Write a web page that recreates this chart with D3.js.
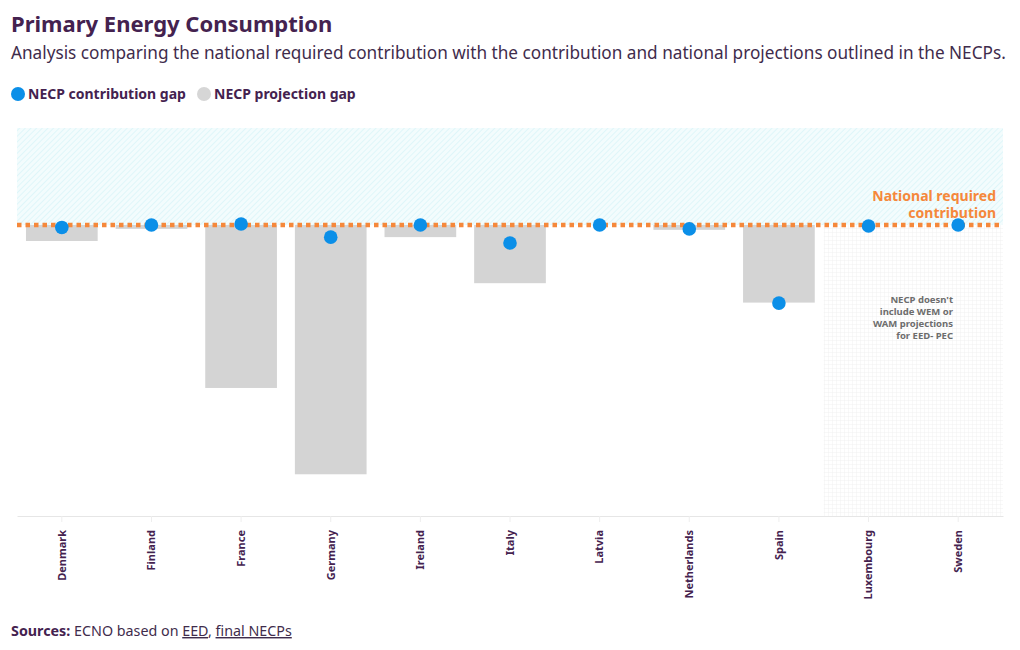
<!DOCTYPE html>
<html><head><meta charset="utf-8">
<script src="https://cdn.jsdelivr.net/npm/d3@7"></script>
<style>
body{margin:0;background:#fff;font-family:"Noto Sans",sans-serif;}
</style></head>
<body><svg id="c" width="1020" height="650"></svg>
<script>
const countries = ["Denmark","Finland","France","Germany","Ireland","Italy","Latvia","Netherlands","Spain","Luxembourg","Sweden"];
const projectionGap = [-1.65,-0.4,-16.8,-25.7,-1.25,-6.0,0,-0.5,-8.0,null,null];
const contributionGap = [-0.25,0,0.1,-1.25,0,-1.85,0,-0.4,-8.05,-0.1,0];
const noProjection = ["Luxembourg","Sweden"];
const yDomain = [-30,10];

const svg = d3.select("#c");
const W = 1020, H = 650;
const m = {l:17, r:17, t:128, b:134};
const x = d3.scaleBand().domain(countries).range([m.l, W-m.r]).paddingInner(0.2).paddingOuter(0.1);
const y = d3.scaleLinear().domain(yDomain).range([H-m.b, m.t]);

const purple = "#44224f";
const defs = svg.append("defs");
const hp = defs.append("pattern").attr("id","hatch").attr("patternUnits","userSpaceOnUse")
  .attr("width",4).attr("height",4).attr("patternTransform","rotate(45)");
hp.append("rect").attr("width",4).attr("height",4).attr("fill","#f3fcfd");
hp.append("line").attr("x1",0).attr("y1",0).attr("x2",0).attr("y2",4).attr("stroke","#d9f4f8").attr("stroke-width",1.5);
const gp = defs.append("pattern").attr("id","grid").attr("patternUnits","userSpaceOnUse")
  .attr("width",4).attr("height",4);
gp.append("rect").attr("width",4).attr("height",4).attr("fill","#ffffff");
gp.append("path").attr("d","M0 0H4M0 0V4").attr("stroke","#f1f1f1").attr("stroke-width",1);

// title
svg.append("text").attr("x",11).attr("y",32).attr("fill",purple).attr("font-size",22).attr("font-weight",700).text("Primary Energy Consumption");
svg.append("text").attr("x",11).attr("y",59).attr("fill","#3f2c4c").attr("font-size",17.2).text("Analysis comparing the national required contribution with the contribution and national projections outlined in the NECPs.");

// legend
const lg = svg.append("g").attr("transform","translate(0,94)");
lg.append("circle").attr("cx",18).attr("cy",0).attr("r",7).attr("fill","#0b8fe8");
lg.append("text").attr("x",28).attr("y",5).attr("font-size",14).attr("font-weight",700).attr("fill",purple).text("NECP contribution gap");
lg.append("circle").attr("cx",204).attr("cy",0).attr("r",7).attr("fill","#d6d6d6");
lg.append("text").attr("x",214).attr("y",5).attr("font-size",14).attr("font-weight",700).attr("fill",purple).text("NECP projection gap");

// top hatch area (above zero)
svg.append("rect").attr("x",m.l).attr("y",y(yDomain[1])).attr("width",W-m.l-m.r).attr("height",y(0)-y(yDomain[1])).attr("fill","url(#hatch)");
// no-projection region
const npStart = x(noProjection[0]) - x.step()*x.paddingInner()/2;
svg.append("rect").attr("x",npStart).attr("y",y(0)).attr("width",W-m.r-npStart).attr("height",y(yDomain[0])-y(0)).attr("fill","url(#grid)");

// x axis
const ax = svg.append("g").attr("transform",`translate(0,${y(yDomain[0])})`)
  .call(d3.axisBottom(x).tickSize(6).tickSizeOuter(0));
ax.select(".domain").attr("stroke","#e6e6e6");
ax.selectAll(".tick line").attr("stroke","#eeeeee");
ax.selectAll(".tick text").attr("transform","rotate(-90)").attr("text-anchor","end")
  .attr("x",-14).attr("y",0).attr("dy","0.35em").attr("font-size",11).attr("font-weight",700)
  .attr("font-family","Noto Sans, sans-serif").attr("fill",purple);

// bars
svg.append("g").selectAll("rect").data(countries.map((c,i)=>({c,v:projectionGap[i]})).filter(d=>d.v!==null && d.v!==0))
  .join("rect").attr("x",d=>x(d.c)).attr("width",x.bandwidth())
  .attr("y",d=>y(Math.max(0,d.v))).attr("height",d=>Math.max(3,Math.abs(y(d.v)-y(0))))
  .attr("fill","#d4d4d4");

// national required contribution line
svg.append("line").attr("x1",m.l).attr("x2",W-m.r).attr("y1",y(0)).attr("y2",y(0))
  .attr("stroke","#f5883b").attr("stroke-width",4.5).attr("stroke-dasharray","4.5,4");
svg.append("text").attr("x",996).attr("y",201).attr("text-anchor","end").attr("font-size",14).attr("font-weight",700).attr("fill","#f5883b").text("National required");
svg.append("text").attr("x",996).attr("y",218).attr("text-anchor","end").attr("font-size",14).attr("font-weight",700).attr("fill","#f5883b").text("contribution");

// dots
svg.append("g").selectAll("circle").data(countries.map((c,i)=>({c,v:contributionGap[i]})))
  .join("circle").attr("cx",d=>x(d.c)+x.bandwidth()/2).attr("cy",d=>y(d.v)).attr("r",6.8).attr("fill","#0b8fe8");

// annotation
const ann = ["NECP doesn't","include WEM or","WAM projections","for EED- PEC"];
svg.append("g").selectAll("text").data(ann).join("text")
  .attr("x",953).attr("y",(d,i)=>303+i*12).attr("text-anchor","end").attr("font-size",9.5).attr("font-weight",700)
  .attr("fill","#6d6d6d").text(d=>d);

// sources
const s = svg.append("text").attr("x",11).attr("y",636).attr("font-size",14.3).attr("fill","#3f2c4c");
s.append("tspan").attr("font-weight",700).attr("fill",purple).text("Sources:");
s.append("tspan").text(" ECNO based on ");
s.append("tspan").attr("text-decoration","underline").text("EED");
s.append("tspan").text(", ");
s.append("tspan").attr("text-decoration","underline").text("final NECPs");
</script></body></html>
